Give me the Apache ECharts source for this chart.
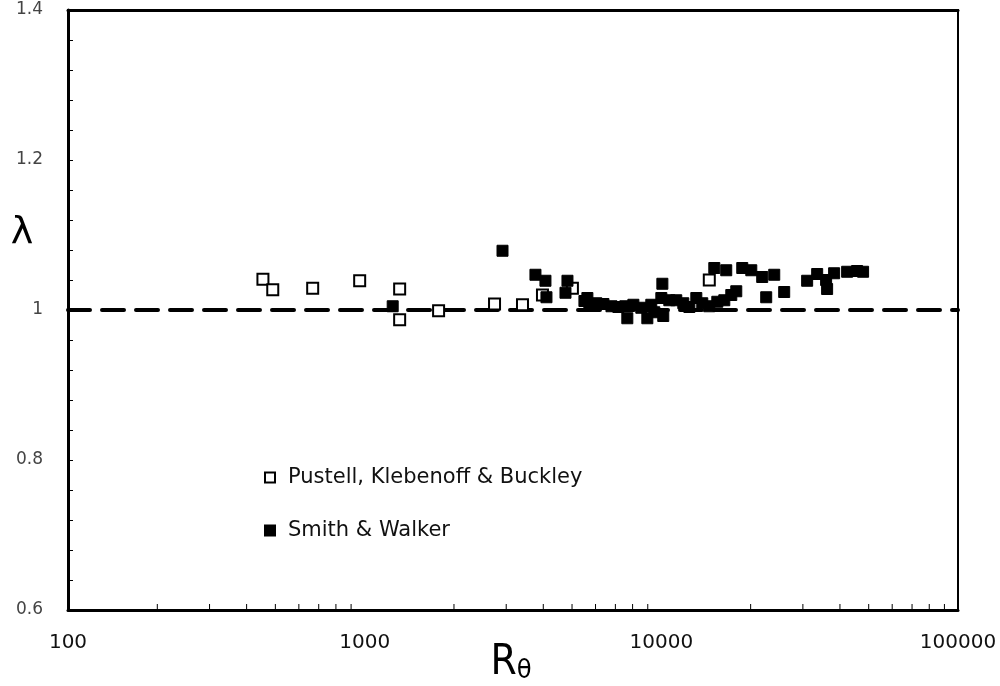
<!DOCTYPE html>
<html><head><meta charset="utf-8">
<script src="https://cdn.jsdelivr.net/npm/echarts@6/dist/echarts.min.js"></script>
<style>html,body{margin:0;padding:0;background:#fff}#c{width:1000px;height:686px}</style>
</head><body><div id="c"></div>
<script>
// Pustell, Klebenoff & Buckley (open squares): [Re_theta, lambda]
const pustell = [
  [454,1.041],[490,1.027],[668,1.029],[962,1.039],[1312,1.028],[1312,0.987],
  [1775,0.999],[2740,1.008],[3404,1.007],[3975,1.020],[5015,1.029],[14510,1.040]
];
// Smith & Walker (filled squares)
const smith = [
  [1243,1.005],[2915,1.079],[3764,1.047],[4068,1.039],[4100,1.017],[4826,1.039],
  [4752,1.023],[5505,1.012],[5633,1.016],[5720,1.007],[6040,1.009],[6380,1.008],[6790,1.005],
  [7165,1.004],[7560,1.005],[7680,0.989],[8050,1.007],[8560,1.003],[8970,0.989],[9250,1.007],
  [9470,0.997],[10080,1.035],[10000,1.016],[10150,0.992],[10640,1.013],[11230,1.013],[11860,1.009],
  [12430,1.004],[13120,1.016],[13740,1.009],[14510,1.005],[15440,1.011],[16300,1.013],
  [17210,1.020],[17890,1.025],[15085,1.056],[16550,1.053],[18740,1.056],[20100,1.053],
  [21880,1.044],[24020,1.047],[22570,1.017],[25950,1.024],[31010,1.039],[33520,1.048],
  [35930,1.040],[36210,1.028],[38230,1.049],[42300,1.051],[45700,1.052],[47870,1.051]
];
const refLine = [[100,1.0],[100000,1.0]];
const xMinorTicks = [200,300,400,500,600,700,800,900,2000,3000,4000,5000,6000,7000,8000,9000,
  20000,30000,40000,50000,60000,70000,80000,90000];
const yTicks = [0.6,0.8,1.0,1.2,1.4];

const chart = echarts.init(document.getElementById('c'));
chart.setOption({
  animation:false,
  backgroundColor:'#fff',
  grid:{left:68,right:42,top:10,bottom:76,show:true,borderColor:'#000',borderWidth:2,
    containLabel:false,outerBoundsMode:'none'},
  legend:{
    orient:'vertical',left:259,top:462,itemGap:32,itemWidth:10,itemHeight:10,
    data:[{name:'Pustell, Klebenoff & Buckley',icon:'rect'},{name:'Smith & Walker',icon:'rect'}],
    textStyle:{fontFamily:'DejaVu Sans',fontSize:21,color:'#111',padding:[0,0,0,8]}
  },
  graphic:[
    {type:'text',x:22,y:233,style:{text:'λ',fontFamily:'DejaVu Sans',fontSize:38,fill:'#000',align:'center',verticalAlign:'middle'}},
    {type:'text',x:511,y:663,style:{text:'{r|R}{t|θ}',align:'center',verticalAlign:'middle',
      rich:{r:{fontSize:42,fontFamily:'DejaVu Sans Condensed',fill:'#000',color:'#000',verticalAlign:'bottom'},
            t:{fontSize:27,fontFamily:'DejaVu Sans Condensed',fill:'#000',color:'#000',verticalAlign:'bottom'}}}}
  ],
  xAxis:[{
    type:'log',logBase:10,min:100,max:100000,
    axisLine:{show:true,lineStyle:{color:'#000',width:3}},
    axisTick:{show:false},
    splitLine:{show:false},
    axisLabel:{margin:23,fontSize:20,fontFamily:'DejaVu Sans',color:'#111',formatter:v=>String(v)}
  },{
    type:'log',position:'top',min:100,max:100000,
    axisLine:{show:true,onZero:false,lineStyle:{color:'#000',width:3}},
    axisTick:{show:false},axisLabel:{show:false},splitLine:{show:false}
  }],
  yAxis:{
    type:'value',min:0.6,max:1.4,interval:0.2,
    axisLine:{show:true,lineStyle:{color:'#000',width:3}},
    axisTick:{show:true,inside:true,length:5,lineStyle:{color:'#000'}},
    minorTick:{show:true,splitNumber:5,length:5,lineStyle:{color:'#000'}},
    splitLine:{show:false},
    axisLabel:{margin:25,fontSize:17,fontFamily:'DejaVu Sans',color:'#444',
      formatter:v=>{const t=yTicks.find(k=>Math.abs(k-v)<1e-6);return t===undefined?'':String(t);}}
  },
  series:[
    {type:'line',data:refLine,symbol:'none',silent:true,
      lineStyle:{color:'#000',width:4,type:[22,12],cap:'round'},z:1},
    {type:'scatter',data:xMinorTicks.map(v=>[v,0.6]),symbol:'rect',symbolSize:[1,6],symbolOffset:[0,-3],
      itemStyle:{color:'#000',opacity:1},silent:true,z:1},
    {name:'Pustell, Klebenoff & Buckley',type:'scatter',data:pustell,symbol:'rect',symbolSize:11,
      itemStyle:{color:'#fff',borderColor:'#000',borderWidth:2,opacity:1},z:3},
    {name:'Smith & Walker',type:'scatter',data:smith,symbol:'rect',symbolSize:11,
      itemStyle:{color:'#000',borderColor:'#000',borderWidth:1,opacity:1},z:4}
  ]
});
</script></body></html>
